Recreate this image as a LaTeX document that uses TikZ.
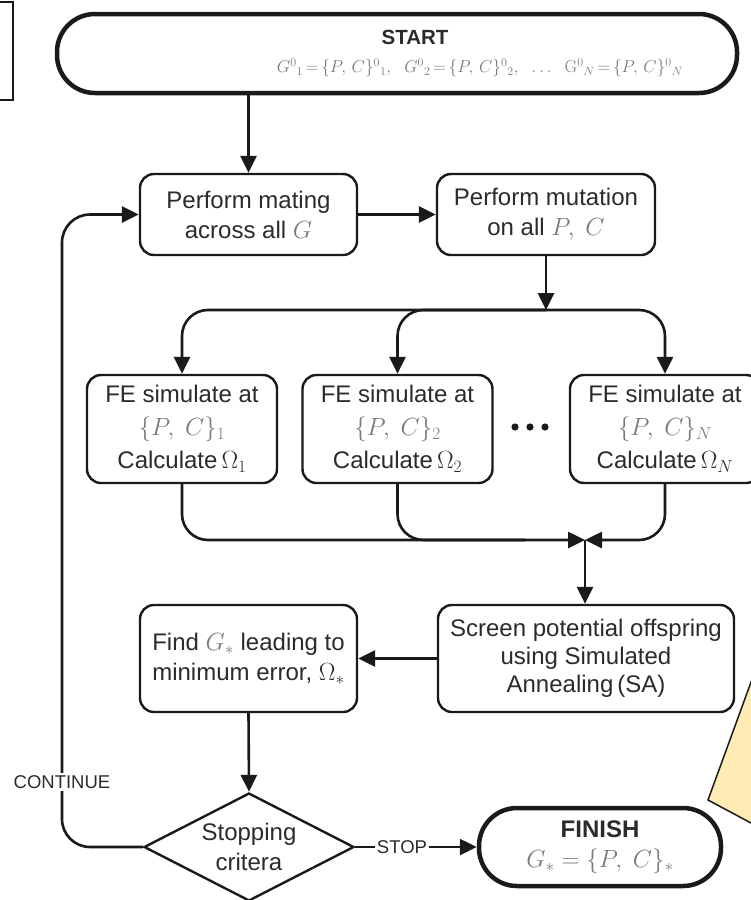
\documentclass[tikz,border=0pt]{standalone}
\usepackage[no-math]{fontspec}
\setsansfont{Liberation Sans}
\usetikzlibrary{arrows.meta,shapes.geometric,calc}
\definecolor{txt}{HTML}{2B2B2B}
\definecolor{mg}{HTML}{7A7A7A}
\definecolor{ln}{HTML}{1A1A1A}
\definecolor{yel}{HTML}{FFEBB3}
\newcommand{\gm}[1]{\textcolor{mg}{$#1$}}
\begin{document}
\begin{tikzpicture}[x=1pt,y=-1pt,
  font=\sffamily\fontsize{24}{30}\selectfont,
  every node/.style={text=txt},
  box/.style={draw=ln, line width=2.4pt, rounded corners=14pt, align=center, inner sep=0pt},
  term/.style={draw=ln, line width=4.5pt, rounded corners=38pt, align=center, inner sep=0pt},
  conn/.style={draw=ln, line width=2.6pt},
  arr/.style={conn, -{Triangle[length=17pt,width=16pt]}},
  lab/.style={fill=white, inner sep=2pt, font=\sffamily\fontsize{18.5}{18.5}\selectfont}]
\useasboundingbox (0,0) rectangle (751,900);
\clip (0,0) rectangle (751,900);
\fill[white] (0,0) rectangle (751,900);

% stray shapes
\draw[draw=ln, line width=2pt] (-5,2) rectangle (13,100);
\filldraw[fill=yel, draw=ln, line width=1.5pt] (708,800) -- (766,641) -- (766,831) -- cycle;

% nodes
\node[term, minimum width=680pt, minimum height=79pt] (start) at (397,53.5) {};
\node (stitle) at (415,37) {\fontsize{20.5}{20.5}\selectfont\textbf{START}};
\node (sform) at (480,68) {\fontsize{18.5}{18.5}\selectfont\thickmuskip=3mu\gm{G^{0}{}_{1}=\{P,\,C\}^{0}{}_{1},\ \ G^{0}{}_{2}=\{P,\,C\}^{0}{}_{2},\ \ \ldots\ \ \mathrm{G}^{0}{}_{N}=\{P,\,C\}^{0}{}_{N}}};
\node[box, minimum width=217pt, minimum height=81pt] (mate) at (248.5,214.5) {Perform mating\\across all \gm{G}};
\node[box, minimum width=218pt, minimum height=81pt] (mut) at (546,214.5) {Perform mutation\\on all \gm{P,\ C}};

\node[box, minimum width=190pt, minimum height=108pt, font=\sffamily\fontsize{24}{33}\selectfont] (fe1) at (182,429)
  {FE simulate at\\\gm{\{P,\ C\}_1}\\Calculate\,$\Omega_1$};
\node[box, minimum width=190pt, minimum height=108pt, font=\sffamily\fontsize{24}{33}\selectfont] (fe2) at (397.5,429)
  {FE simulate at\\\gm{\{P,\ C\}_2}\\Calculate\,$\Omega_2$};
\node[box, minimum width=190pt, minimum height=108pt, font=\sffamily\fontsize{24}{33}\selectfont] (fen) at (665,429)
  {FE simulate at\\\gm{\{P,\ C\}_N}\\Calculate\,$\Omega_N$};
\fill[ln] (515,427) circle[radius=3.6pt] (530,427) circle[radius=3.6pt] (545,427) circle[radius=3.6pt];

\node[box, minimum width=296pt, minimum height=107pt, font=\sffamily\fontsize{24}{28}\selectfont] (scr) at (586,658.5)
  {Screen potential offspring\\using Simulated\\Annealing\,(SA)};
\node[box, minimum width=217pt, minimum height=107pt] (find) at (248.5,658.5)
  {Find \gm{G_*} leading to\\minimum error, $\Omega_*$};

\node[draw=ln, line width=2.4pt, diamond, minimum width=210pt, minimum height=108pt, inner sep=0pt] (dia) at (249,847) {};
\node[align=center] (dtext) at (dia.center) {Stopping\\critera};

\node[term, minimum width=242pt, minimum height=78pt] (fin) at (600,847)
  {\textbf{FINISH}\\\gm{G_*=\{P,\ C\}_*}};

% connectors
\coordinate (bj) at (546,310);
\coordinate (bt) at (585,540);
\draw[arr] (mate.north |- start.south) -- (mate.north);
\draw[arr] (mate) -- (mut);
\draw[arr] (mut.south) -- (bj);
\draw[arr, rounded corners=26pt] (bj) -| (fe1.north);
\draw[arr, rounded corners=26pt] (bj) -| (fe2.north);
\draw[arr, rounded corners=26pt] (bj) -| (fen.north);
\draw[conn, rounded corners=26pt] (fe2.south) |- ($(bt)+(-60,0)$);
\draw[arr, rounded corners=26pt] (fe1.south) |- (bt);
\draw[arr, rounded corners=26pt] (fen.south) |- (bt);
\draw[arr] (bt) -- (bt |- scr.north);
\draw[arr] (scr.west) -- (find.east);
\draw[arr] (find.south) -- (dia.north);
\draw[arr] (dia.east) -- (fin.west);
\draw[arr, rounded corners=28pt] (dia.west) -| (62,500) |- (mate.west);

\node[lab] (cont) at (62,782) {CONTINUE};
\node[lab] (stop) at (402,847) {STOP};
\end{tikzpicture}
\end{document}
